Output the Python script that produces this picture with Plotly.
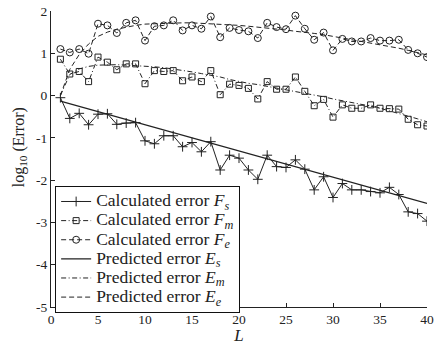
import plotly.graph_objects as go

L = list(range(1, 41))

F_s = [-0.05, -0.54, -0.42, -0.69, -0.44, -0.43, -0.68, -0.65, -0.64, -1.07,
       -1.14, -0.95, -0.95, -1.21, -1.11, -1.33, -1.09, -1.76, -1.41, -1.48,
       -1.76, -1.98, -1.41, -1.68, -1.70, -1.52, -1.74, -2.23, -1.92, -2.41,
       -2.08, -2.23, -2.23, -2.27, -2.30, -2.17, -2.34, -2.75, -2.79, -2.97]

F_m = [0.86, 0.51, 0.57, 0.33, 0.91, 0.79, 0.61, 0.75, 0.75, 0.28,
       0.59, 0.57, 0.59, 0.35, 0.44, 0.33, 0.59, 0.02, 0.27, 0.24,
       0.17, -0.08, 0.33, 0.15, 0.15, 0.44, 0.10, -0.24, -0.09, -0.51,
       -0.22, -0.30, -0.30, -0.22, -0.30, -0.31, -0.32, -0.56, -0.69, -0.72]

F_e = [1.10, 1.02, 1.10, 0.99, 1.70, 1.66, 1.48, 1.72, 1.78, 1.30,
       1.64, 1.66, 1.78, 1.54, 1.66, 1.58, 1.87, 1.38, 1.60, 1.55,
       1.52, 1.36, 1.72, 1.62, 1.57, 1.89, 1.58, 1.32, 1.49, 1.07,
       1.34, 1.28, 1.28, 1.36, 1.30, 1.30, 1.32, 1.08, 1.00, 0.91]

E_s_L = [1, 40]
E_s = [-0.13, -2.55]

E_m = [0.0, 0.50, 0.63, 0.69, 0.72, 0.73, 0.73, 0.72, 0.71, 0.70,
       0.68, 0.66, 0.63, 0.60, 0.56, 0.52, 0.48, 0.44, 0.38, 0.33,
       0.29, 0.26, 0.22, 0.18, 0.14, 0.10, 0.06, 0.02, -0.03, -0.08,
       -0.12, -0.16, -0.20, -0.25, -0.30, -0.36, -0.42, -0.48, -0.55, -0.62]

E_e = [0.0, 0.62, 0.97, 1.22, 1.40, 1.50, 1.57, 1.62, 1.66, 1.69,
       1.70, 1.71, 1.72, 1.72, 1.72, 1.71, 1.70, 1.69, 1.67, 1.66,
       1.64, 1.62, 1.60, 1.58, 1.55, 1.52, 1.50, 1.47, 1.44, 1.40,
       1.37, 1.33, 1.29, 1.25, 1.21, 1.16, 1.12, 1.07, 1.02, 0.96]

x_ticks = [0, 5, 10, 15, 20, 25, 30, 35, 40]
y_ticks = [-5, -4, -3, -2, -1, 0, 1, 2]

FONT = "Liberation Serif, Times New Roman, serif"
C = "#222222"
DASH = "5px,3px"
DASHDOT = "5px,2.5px,1px,2.5px"


def lg(txt):
    return '<span style="font-size:17.5px">' + txt + '</span>'


fig = go.Figure()
fig.add_trace(go.Scatter(
    x=L, y=F_s, mode="lines+markers", name=lg("Calculated error <i>F<sub>s</sub></i>"),
    line=dict(color=C, width=1, dash="solid"),
    marker=dict(symbol="cross-thin-open", size=7, color=C, line=dict(width=1, color=C))))
fig.add_trace(go.Scatter(
    x=L, y=F_m, mode="lines+markers", name=lg("Calculated error <i>F<sub>m</sub></i>"),
    line=dict(color=C, width=1, dash=DASHDOT),
    marker=dict(symbol="square-open", size=6, color=C, line=dict(width=1, color=C))))
fig.add_trace(go.Scatter(
    x=L, y=F_e, mode="lines+markers", name=lg("Calculated error <i>F<sub>e</sub></i>"),
    line=dict(color=C, width=1, dash=DASH),
    marker=dict(symbol="circle-open", size=7, color=C, line=dict(width=1, color=C))))
fig.add_trace(go.Scatter(
    x=E_s_L, y=E_s, mode="lines", name=lg("Predicted error <i>E<sub>s</sub></i>"),
    line=dict(color=C, width=1.2, dash="solid")))
fig.add_trace(go.Scatter(
    x=L, y=E_m, mode="lines", name=lg("Predicted error <i>E<sub>m</sub></i>"),
    line=dict(color=C, width=1, dash=DASHDOT)))
fig.add_trace(go.Scatter(
    x=L, y=E_e, mode="lines", name=lg("Predicted error <i>E<sub>e</sub></i>"),
    line=dict(color=C, width=1, dash=DASH)))

fig.update_layout(
    width=438, height=345,
    margin=dict(l=51, r=11, t=11, b=38, autoexpand=False),
    paper_bgcolor="white", plot_bgcolor="white",
    font=dict(family=FONT, size=13.5, color="#222"),
    showlegend=True,
    legend=dict(x=0.011, y=0.409, xanchor="left", yanchor="top",
                bordercolor="#111", borderwidth=1, bgcolor="white",
                font=dict(family=FONT, size=12.4, color="#222"),
                tracegroupgap=0, itemwidth=30),
    xaxis=dict(range=[0, 40], tickvals=x_ticks, ticktext=[str(v) for v in x_ticks],
               ticks="inside", ticklen=4, tickcolor="#222", showline=True,
               linecolor="#222", linewidth=1, showgrid=False, zeroline=False,
               automargin=False, ticklabeloverflow="allow",
               title=dict(text="<i>L</i>", standoff=2, font=dict(size=17))),
    yaxis=dict(range=[-5, 2], tickvals=y_ticks, ticktext=[str(v) for v in y_ticks],
               ticks="inside", ticklen=4, tickcolor="#222", showline=True,
               linecolor="#222", linewidth=1, showgrid=False, zeroline=False,
               automargin=False, ticklabeloverflow="allow"),
    annotations=[dict(text="log<sub>10</sub> (Error)", xref="paper", yref="paper",
                      x=-0.085, y=0.54, xanchor="center", yanchor="middle",
                      textangle=-90, showarrow=False,
                      font=dict(family=FONT, size=16, color="#222"))],
)

fig.write_html("out.html", config={"displayModeBar": False},
               post_script="document.body.style.margin='0px';document.body.style.overflow='hidden';")
